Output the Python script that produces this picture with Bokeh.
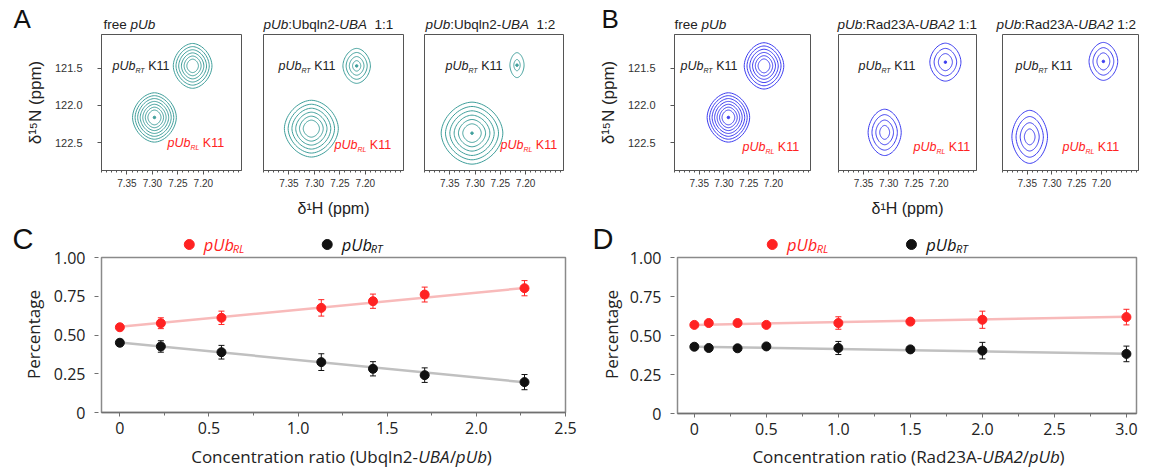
import numpy as np
from bokeh.plotting import figure
from bokeh.models import (Range1d, FixedTicker, Label, Whisker, ColumnDataSource,
                          TeeHead, PrintfTickFormatter, Spacer)
from bokeh.layouts import row, column
from bokeh.embed import file_html
from bokeh.resources import INLINE

# ======================= DATA =======================
# --- NMR peaks (6 panels: A free, A 1:1, A 1:2, B free, B 1:1, B 1:2) ---
rt_H = [7.221, 7.217, 7.217, 7.219, 7.187, 7.196]        # 1H ppm, pUb_RT K11
rt_N = [121.47, 121.47, 121.46, 121.47, 121.42, 121.41]  # 15N ppm
rt_hw = [0.038, 0.027, 0.014, 0.040, 0.031, 0.029]       # outer contour half-width (ppm)
rt_hh = [0.30, 0.234, 0.167, 0.31, 0.254, 0.254]          # outer contour half-height (ppm)
rt_levels = [6, 4, 2, 6, 3, 3]
rt_dot = [0, 1, 1, 0, 1, 1]
rl_H = [7.296, 7.306, 7.306, 7.291, 7.308, 7.345]        # pUb_RL K11
rl_N = [122.16, 122.31, 122.37, 122.16, 122.36, 122.42]
rl_hw = [0.043, 0.053, 0.061, 0.043, 0.033, 0.036]
rl_hh = [0.33, 0.38, 0.415, 0.33, 0.31, 0.355]
rl_levels = [7, 6, 6, 7, 4, 4]
rl_dot = [1, 0, 1, 1, 0, 0]

nmr_titles = [
    [("free ", "normal"), ("pUb", "italic")],
    [("pUb", "italic"), (":Ubqln2-", "normal"), ("UBA", "italic"), ("  1:1", "normal")],
    [("pUb", "italic"), (":Ubqln2-", "normal"), ("UBA", "italic"), ("  1:2", "normal")],
    [("free ", "normal"), ("pUb", "italic")],
    [("pUb", "italic"), (":Rad23A-", "normal"), ("UBA2", "italic"), (" 1:1", "normal")],
    [("pUb", "italic"), (":Rad23A-", "normal"), ("UBA2", "italic"), (" 1:2", "normal")],
]
nmr_xticks = [7.35, 7.30, 7.25, 7.20]
nmr_yticks = [121.5, 122.0, 122.5]

# --- Panel C: Ubqln2-UBA titration ---
ratio_C = [0, 0.23, 0.57, 1.13, 1.42, 1.71, 2.27]
rl_C = [0.55, 0.576, 0.611, 0.675, 0.718, 0.761, 0.802]
rl_C_err = [0.012, 0.035, 0.043, 0.053, 0.046, 0.048, 0.049]
rt_C = [0.45, 0.426, 0.389, 0.325, 0.282, 0.241, 0.196]
rt_C_err = [0.02, 0.037, 0.044, 0.054, 0.046, 0.047, 0.049]
fit_C_x = [0, 2.27]
fit_C_rl = [0.553, 0.803]
fit_C_rt = [0.452, 0.195]

# --- Panel D: Rad23A-UBA2 titration ---
ratio_D = [0, 0.1, 0.3, 0.5, 1.0, 1.5, 2.0, 3.0]
rl_D = [0.568, 0.580, 0.580, 0.568, 0.580, 0.589, 0.601, 0.618]
rl_D_err = [0.008, 0.008, 0.008, 0.008, 0.040, 0.015, 0.055, 0.050]
rt_D = [0.428, 0.420, 0.418, 0.430, 0.420, 0.411, 0.403, 0.382]
rt_D_err = [0.008, 0.008, 0.008, 0.008, 0.042, 0.015, 0.053, 0.050]
fit_D_x = [0, 3.0]
fit_D_rl = [0.568, 0.620]
fit_D_rt = [0.428, 0.383]

pct_ticks = [0, 0.25, 0.5, 0.75, 1.0]
pct_labels = ["0", "0.25", "0.50", "0.75", "1.00"]
C_xticks = [0, 0.5, 1.0, 1.5, 2.0, 2.5]
C_xlabels = ["0", "0.5", "1.0", "1.5", "2.0", "2.5"]
D_xticks = [0, 0.5, 1.0, 1.5, 2.0, 2.5, 3.0]
D_xlabels = ["0", "0.5", "1.0", "1.5", "2.0", "2.5", "3.0"]

# ======================= STYLE / LAYOUT =======================
ARIAL = "Liberation Sans"
OSANS = "Open Sans"
TEAL = "#3f9f9b"
BLUE = "#3c3cf0"
RED = "#ff2222"
W = 1140

AR = {' ': .278, '(': .333, ')': .333, '-': .333, '/': .278, ':': .278, '.': .278,
      'A': .667, 'B': .667, 'C': .722, 'D': .722, 'H': .722, 'K': .667, 'L': .556, 'N': .722,
      'R': .722, 'T': .611, 'U': .722, 'a': .556, 'b': .556, 'c': .5, 'd': .556, 'e': .556,
      'f': .278, 'g': .556, 'i': .222, 'l': .222, 'm': .833, 'n': .556, 'o': .556, 'p': .556,
      'q': .556, 'r': .333, 's': .5, 't': .278, 'u': .556}
OS = {' ': .26, '(': .296, ')': .296, '-': .322, '/': .34, ':': .267, '.': .267,
      'A': .633, 'B': .648, 'C': .631, 'L': .556, 'R': .636, 'T': .556, 'U': .731, 'P': .603,
      'a': .556, 'b': .613, 'c': .48, 'd': .613, 'e': .561, 'g': .546, 'i': .258, 'l': .258,
      'n': .614, 'o': .603, 'p': .613, 'q': .613, 'r': .408, 't': .356, 'u': .614}
MID = {ARIAL: 0.347, OSANS: 0.388}   # distance baseline -> middle of text box (em)


def tw(text, size, font, style="normal"):
    tab = AR if font == ARIAL else OS
    f = 0.93 if (font == OSANS and style == "italic") else 1.0
    return sum(tab.get(ch, .556) for ch in text) * size * f


class Frame:
    """maps page pixel positions to a figure's data coordinates"""
    def __init__(self, p, left, top, w, h, x0, x1, ytop, ybot):
        self.p, self.left, self.top, self.w, self.h = p, left, top, w, h
        self.x0, self.x1, self.ytop, self.ybot = x0, x1, ytop, ybot

    def fx(self, px):
        return self.x0 + (px - self.left) / self.w * (self.x1 - self.x0)

    def fy(self, py):
        return self.ytop + (py - self.top) / self.h * (self.ybot - self.ytop)


def rich(fr, px, py, parts, font, align="left"):
    # parts: (text, size, style, color, dy_px) ; py = baseline (page px)
    items, x = [], 0.0
    for t, s, st, c, dy in parts:
        lead = len(t) - len(t.lstrip(' '))
        x += lead * tw(' ', s, font)
        core = t.strip(' ')
        items.append((x, core, s, st, c, dy))
        x += tw(core, s, font, st)
        if core:
            x += (len(t) - len(t.rstrip(' '))) * tw(' ', s, font)
    x0 = px - x / 2 if align == "center" else px
    for xo, t, s, st, c, dy in items:
        if not t:
            continue
        ymid = py + dy - MID[font] * s
        fr.p.add_layout(Label(x=fr.fx(x0 + xo), y=fr.fy(ymid), text=t, text_font=font,
                              text_font_size=f"{s}px", text_font_style=st, text_color=c,
                              text_align="left", text_baseline="middle"))


def strip(x0, y0, w, h):
    p = figure(width=w, height=h, x_range=Range1d(0, w), y_range=Range1d(h, 0),
               min_border_left=0, min_border_right=0, min_border_top=0, min_border_bottom=0,
               x_axis_location=None, y_axis_location=None, output_backend="svg",
               toolbar_location=None, title=None)
    p.grid.visible = False
    p.outline_line_color = None
    p.background_fill_color = "white"
    p.border_fill_color = "white"
    return p, Frame(p, x0, y0, w, h, 0, w, 0, h)


def contour(cx, cy, hw, hh, n, inner=0.3, pw=1.8):
    t = np.linspace(0, 2 * np.pi, 73)
    c, s = np.cos(t), np.sin(t)
    ux = np.sign(c) * np.abs(c) ** (2 / pw)
    uy = np.sign(s) * np.abs(s) ** (2 / pw)
    fr = np.linspace(1.0, inner, n) if n > 1 else [1.0]
    xs = [list(cx + f * hw * ux) for f in fr]
    ys = [list(cy + f * hh * uy) for f in fr]
    return xs, ys


# ---------- header strip: panel letters A/B + panel titles ----------
H1 = 33
s1, fs1 = strip(0, 0, W, H1)
rich(fs1, 13, 27.5, [("A", 26, "normal", "#111111", 0)], ARIAL)
rich(fs1, 601, 27.5, [("B", 26, "normal", "#111111", 0)], ARIAL)
title_x = [103, 263, 425, 674, 837, 996]
for i in range(6):
    rich(fs1, title_x[i], 28.5, [(t, 13.5, st, "#222222", 0) for t, st in nmr_titles[i]], ARIAL)

# ---------- top row: NMR panels ----------
TOP_H, FT, FH = 189, 1, 136
TOP_Y = H1
XR = (7.40, 7.125)
YR = (121.05, 122.87)
frame_left = [101, 263, 424, 674, 838, 1002]
frame_w = [140, 140, 139, 136, 138, 136]
fig_bounds = [0, 252, 413, 570, 824, 989, W]
rt_lab_dx = [11, 15, 21, 6, 20, 13]
rl_lab_dx = [66, 71, 76, 68, 75, 60]
rl_lab_base = [113, 115, 115, 117, 117, 117]

top_figs = []
for i in range(6):
    fw = frame_w[i]
    lb = frame_left[i] - fig_bounds[i]
    rb = fig_bounds[i + 1] - (frame_left[i] + fw)
    has_y = i in (0, 3)
    p = figure(width=fig_bounds[i + 1] - fig_bounds[i], height=TOP_H,
               x_range=Range1d(*XR), y_range=Range1d(YR[1], YR[0]),
               min_border_left=lb, min_border_right=rb, min_border_top=FT,
               min_border_bottom=TOP_H - FT - FH, output_backend="svg",
               toolbar_location=None, title=None,
               y_axis_location="left" if has_y else None)
    p.grid.visible = False
    p.outline_line_color = "#555555"
    p.outline_line_width = 1
    p.background_fill_color = "white"
    p.border_fill_color = "white"
    col = TEAL if i < 3 else BLUE
    for (H, N, hw, hh, nl, dot) in [(rt_H[i], rt_N[i], rt_hw[i], rt_hh[i], rt_levels[i], rt_dot[i]),
                                    (rl_H[i], rl_N[i], rl_hw[i], rl_hh[i], rl_levels[i], rl_dot[i])]:
        inner = 0.3 if nl > 3 else 0.45
        xs, ys = contour(H, N, hw, hh, nl, inner=inner)
        p.multi_line(xs, ys, line_color=col, line_width=1)
        if dot:
            p.scatter([H], [N], size=2.5, color=col)
    xa = p.xaxis[0]
    minor = [round(v, 2) for v in np.arange(7.13, 7.40, 0.01)]
    xa.ticker = FixedTicker(ticks=nmr_xticks, minor_ticks=minor)
    xa.formatter = PrintfTickFormatter(format="%.2f")
    xa.major_tick_in = 0
    xa.major_tick_out = 4
    xa.minor_tick_in = 0
    xa.minor_tick_out = 2
    xa.axis_line_color = "#555555"
    xa.major_tick_line_color = "#555555"
    xa.minor_tick_line_color = "#555555"
    xa.major_label_text_font = ARIAL
    xa.major_label_text_font_size = "10px"
    xa.major_label_text_color = "#333333"
    xa.major_label_standoff = 4
    if i in (1, 4):
        xa.axis_label = "δ¹H (ppm)"
        xa.axis_label_text_font = ARIAL
        xa.axis_label_text_font_size = "16px"
        xa.axis_label_text_font_style = "normal"
        xa.axis_label_text_color = "#222222"
        xa.axis_label_standoff = 10
    if has_y:
        ya = p.yaxis[0]
        ya.ticker = FixedTicker(ticks=nmr_yticks)
        ya.formatter = PrintfTickFormatter(format="%.1f")
        ya.major_tick_in = 0
        ya.major_tick_out = 4
        ya.minor_tick_line_color = None
        ya.axis_line_color = "#555555"
        ya.major_tick_line_color = "#555555"
        ya.major_label_text_font = ARIAL
        ya.major_label_text_font_size = "11px"
        ya.major_label_text_color = "#333333"
        ya.major_label_standoff = 15
        ya.axis_label = "δ¹⁵N (ppm)"
        ya.axis_label_text_font = ARIAL
        ya.axis_label_text_font_size = "17px"
        ya.axis_label_text_font_style = "normal"
        ya.axis_label_text_color = "#222222"
        ya.axis_label_standoff = 7
    ftop = TOP_Y + FT
    fr = Frame(p, frame_left[i], ftop, fw, FH, XR[0], XR[1], YR[0], YR[1])
    rich(fr, frame_left[i] + rt_lab_dx[i], ftop + 36,
         [("pUb", 12.5, "italic", "#222222", 0), ("RT", 7, "italic", "#222222", 2.5),
          (" K11", 12.5, "normal", "#222222", 0)], ARIAL)
    rich(fr, frame_left[i] + rl_lab_dx[i], ftop + rl_lab_base[i],
         [("pUb", 12.5, "italic", RED, 0), ("RL", 7, "italic", RED, 2.5),
          (" K11", 12.5, "normal", RED, 0)], ARIAL)
    top_figs.append(p)

# ---------- bottom section: percentage plots ----------
BS_Y = TOP_Y + TOP_H          # 222
BS_H = 224                    # 222 .. 446
LEG_H = 34                    # legend strip above each plot
AX_TOP = 24                   # empty space above the y-axis columns
FRAME_TOP = 257


def pct_plot(width, lb, rb, fw, fh, xr, xticks, xlabels, ratio, rl, rle, rt, rte, fx_, frl, frt):
    H = BS_H - LEG_H
    p = figure(width=width, height=H, x_range=Range1d(*xr), y_range=Range1d(0, 1),
               min_border_left=lb, min_border_right=rb, min_border_top=FRAME_TOP - (BS_Y + LEG_H),
               min_border_bottom=H - (FRAME_TOP - (BS_Y + LEG_H)) - fh, output_backend="svg",
               toolbar_location=None, title=None, y_axis_location=None)
    p.grid.visible = False
    p.outline_line_color = "#8a8a8a"
    p.outline_line_width = 1.5
    p.background_fill_color = "white"
    p.border_fill_color = "white"
    p.line(fx_, frl, line_color="#f8baba", line_width=2.5)
    p.line(fx_, frt, line_color="#c0c0c0", line_width=2.5)
    for ys, es, c in [(rl, rle, RED), (rt, rte, "#111111")]:
        src = ColumnDataSource(dict(x=ratio, lo=[a - b for a, b in zip(ys, es)],
                                    hi=[a + b for a, b in zip(ys, es)]))
        w = Whisker(source=src, base="x", lower="lo", upper="hi", line_color=c, line_width=1,
                    upper_head=TeeHead(size=6, line_color=c, line_width=1),
                    lower_head=TeeHead(size=6, line_color=c, line_width=1))
        p.add_layout(w)
        p.scatter(ratio, ys, size=9, color=c)
    xa = p.xaxis[0]
    minor = [t + 0.25 for t in xticks[:-1]]
    xa.ticker = FixedTicker(ticks=xticks, minor_ticks=minor)
    xa.major_label_overrides = {float(t): l for t, l in zip(xticks, xlabels)}
    xa.axis_line_color = "#707070"
    xa.axis_line_width = 1.3
    xa.major_tick_line_color = "#707070"
    xa.minor_tick_line_color = "#707070"
    xa.major_tick_in = 0
    xa.major_tick_out = 4
    xa.minor_tick_in = 0
    xa.minor_tick_out = 3
    xa.major_label_text_font = OSANS
    xa.major_label_text_font_size = "16px"
    xa.major_label_text_color = "#222222"
    xa.major_label_standoff = 5
    return p


def pct_axis(width, fh, yrange):
    # y axis of a percentage plot (shares the plot's y range), in its own column
    H = BS_H - AX_TOP
    top = FRAME_TOP - (BS_Y + AX_TOP)
    p = figure(width=width, height=H, x_range=Range1d(0, 1), y_range=yrange,
               min_border_left=width - 1, min_border_right=0, min_border_top=top,
               min_border_bottom=H - top - fh, output_backend="svg",
               toolbar_location=None, title=None, x_axis_location=None)
    p.grid.visible = False
    p.outline_line_color = None
    p.background_fill_color = "white"
    p.border_fill_color = "white"
    ya = p.yaxis[0]
    ya.ticker = FixedTicker(ticks=pct_ticks)
    ya.major_label_overrides = {float(t): l for t, l in zip(pct_ticks, pct_labels)}
    ya.minor_tick_line_color = None
    ya.axis_line_color = None
    ya.major_tick_line_color = "#707070"
    ya.major_tick_in = 0
    ya.major_tick_out = 4
    ya.major_label_text_font = OSANS
    ya.major_label_text_font_size = "16px"
    ya.major_label_text_color = "#222222"
    ya.major_label_standoff = 9
    return p


cols = []
for (x0, letter, wl, wa, wp, lb, fw, rb, fh, xr, xt, xl, data, leg_x) in [
        (0, "C", 45, 54, 481, 2, 464, 15, 155, (-0.103, 2.5), C_xticks, C_xlabels,
         (ratio_C, rl_C, rl_C_err, rt_C, rt_C_err, fit_C_x, fit_C_rl, fit_C_rt), (190, 333)),
        (580, "D", 45, 50, 465, 2, 459, 4, 156, (-0.117, 3.07), D_xticks, D_xlabels,
         (ratio_D, rl_D, rl_D_err, rt_D, rt_D_err, fit_D_x, fit_D_rl, fit_D_rt), (771, 912))]:
    # letter + y-axis title column
    sl, fsl = strip(x0, BS_Y, wl, BS_H)
    rich(fsl, x0 + 12, 249, [(letter, 29, "normal", "#111111", 0)], ARIAL)
    cyl = x0 + 32.5 if letter == "C" else x0 + 31
    sl.add_layout(Label(x=fsl.fx(cyl), y=fsl.fy(334), text="Percentage", text_font=OSANS,
                        text_font_size="17px", text_color="#222222", angle=np.pi / 2,
                        text_align="center", text_baseline="middle"))
    cols.append(sl)
    # plot + legend
    pp = pct_plot(wp, lb, rb, fw, fh, xr, xt, xl, *data)
    pa = pct_axis(wa, fh, pp.y_range)
    cols.append(column(Spacer(width=wa, height=AX_TOP), pa))
    xs0 = x0 + wl + wa
    sg, fsg = strip(xs0, BS_Y, wp, LEG_H)
    sg.scatter([fsg.fx(x) for x in leg_x], [fsg.fy(244)] * 2, size=10, color=[RED, "#111111"])
    for x, c, sub in zip(leg_x, [RED, "#111111"], ["RL", "RT"]):
        rich(fsg, x + 15, 250, [("pUb", 16.5, "italic", c, 0), (sub, 11, "italic", c, 2.5)],
             OSANS)
    cols.append(column(sg, pp))

# ---------- bottom strip: x-axis titles of C and D ----------
B3_Y, B3_H = BS_Y + BS_H, 23
s3, fs3 = strip(0, B3_Y, W, B3_H)
for cx, mid, lab in [(341, "Ubqln2-", "UBA"), (908, "Rad23A-", "UBA2")]:
    rich(fs3, cx, B3_Y + 16.5,
         [("Concentration ratio (" + mid, 17, "normal", "#222222", 0),
          (lab, 17, "italic", "#222222", 0), ("/", 17, "normal", "#222222", 0),
          ("pUb", 17, "italic", "#222222", 0), (")", 17, "normal", "#222222", 0)],
         OSANS, align="center")

layout = column(s1, row(*top_figs), row(*cols), s3)
open("out.html", "w").write(file_html(layout, INLINE))
